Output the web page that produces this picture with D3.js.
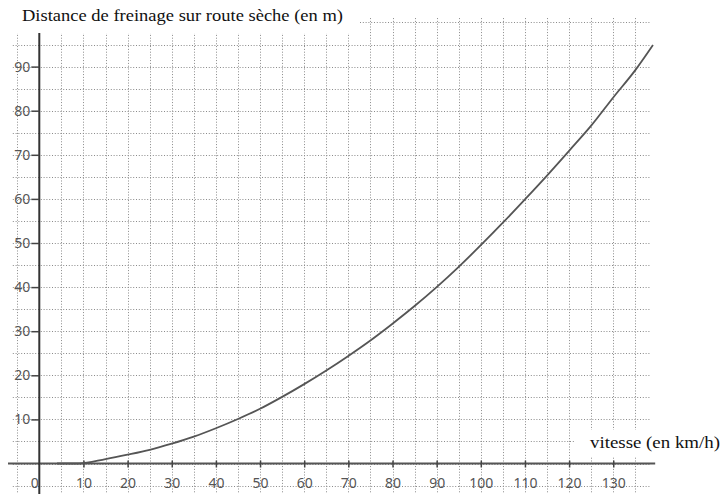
<!DOCTYPE html>
<html>
<head>
<meta charset="utf-8">
<script src="https://cdn.jsdelivr.net/npm/d3@7/dist/d3.min.js"></script>
<style>
  html, body { margin: 0; padding: 0; background: #fff; }
  svg { display: block; }
</style>
</head>
<body>
<svg id="chart" width="721" height="494"></svg>
<script>
// ---- data ----
const speeds    = [4, 9, 15, 20, 25, 30, 35, 40, 45, 50, 55, 60, 65, 70, 75, 80, 85, 90, 95, 100, 105, 110, 115, 120, 125, 130, 135, 139];
const distances = [0, 0, 1.0, 2, 3.1, 4.5, 6.1, 8, 10.1, 12.4, 15.1, 18, 21.1, 24.4, 27.9, 31.7, 35.7, 40, 44.6, 49.5, 54.6, 59.9, 65.3, 70.9, 76.6, 83, 89.2, 94.9];
const xTickValues = [0, 10, 20, 30, 40, 50, 60, 70, 80, 90, 100, 110, 120, 130];
const yTickValues = [10, 20, 30, 40, 50, 60, 70, 80, 90];
const xGridValues = d3.range(-5, 136, 5);
const yGridValues = d3.range(-5, 101, 5);
const titleText = "Distance de freinage sur route sèche (en m)";
const xLabelText = "vitesse (en km/h)";

const SERIF = '"Liberation Serif", "Times New Roman", serif';
const SANS = '"Noto Sans", "Open Sans", sans-serif';

const svg = d3.select("#chart");

const x = d3.scaleLinear().domain([0, 130]).range([39.3, 39.3 + 13 * 44.15]);
const y = d3.scaleLinear().domain([0, 90]).range([463.5, 463.5 - 9 * 44.1]);

// ---- dotted grid ----
const grid = svg.append("g").attr("stroke", "#8a8a8a").attr("stroke-width", 1)
  .attr("stroke-dasharray", "1,1.8");
grid.selectAll("line.v").data(xGridValues).join("line").attr("class", "v")
  .attr("x1", d => Math.round(x(d)) + 0.5).attr("x2", d => Math.round(x(d)) + 0.5)
  .attr("y1", y(101)).attr("y2", 494);
grid.selectAll("line.h").data(yGridValues).join("line").attr("class", "h")
  .attr("y1", d => Math.round(y(d)) + 0.5).attr("y2", d => Math.round(y(d)) + 0.5)
  .attr("x1", x(-6)).attr("x2", x(138.5));

// white boxes behind title and x label
svg.append("rect").attr("x", 0).attr("y", 0).attr("width", 360).attr("height", 33).attr("fill", "#fff");
svg.append("rect").attr("x", 575).attr("y", 430).attr("width", 146).attr("height", 27).attr("fill", "#fff");

// ---- axis lines ----
svg.append("line").attr("x1", 8).attr("x2", x(139.5)).attr("y1", y(0)).attr("y2", y(0))
  .attr("stroke", "#555").attr("stroke-width", 2);
svg.append("line").attr("x1", x(0)).attr("x2", x(0)).attr("y1", 33).attr("y2", 494)
  .attr("stroke", "#333").attr("stroke-width", 2);

// ---- x axis ticks + labels ----
const xAxis = d3.axisBottom(x).tickValues(xTickValues).tickSize(4).tickSizeOuter(0).tickFormat(d3.format("d"));
const gx = svg.append("g").attr("transform", `translate(0,${y(0)})`).call(xAxis);
gx.select(".domain").remove();
gx.selectAll(".tick line").attr("y1", -3).attr("y2", 4).attr("stroke", "#444").attr("stroke-width", 1.5)
  .filter(d => d === 0).remove();
gx.selectAll(".tick text").attr("y", 24).attr("dy", 0)
  .style("font-family", SANS).style("font-size", "14px").attr("fill", "#555");
gx.selectAll(".tick").filter(d => d === 0).select("text").attr("text-anchor", "end").attr("x", -1);

// ---- y axis ticks + labels ----
const yAxis = d3.axisLeft(y).tickValues(yTickValues).tickSize(8).tickPadding(1).tickFormat(d3.format("d"));
const gy = svg.append("g").attr("transform", `translate(${x(0)},0)`).call(yAxis);
gy.select(".domain").remove();
gy.selectAll(".tick line").attr("stroke", "#444").attr("stroke-width", 1.5);
gy.selectAll(".tick text").style("font-family", SANS).style("font-size", "14px").attr("fill", "#555");

// ---- curve ----
const line = d3.line().x((d, i) => x(speeds[i])).y(d => y(d)).curve(d3.curveMonotoneX);
svg.append("path").datum(distances).attr("d", line)
  .attr("fill", "none").attr("stroke", "#555").attr("stroke-width", 1.8);

// ---- titles ----
svg.append("text").attr("x", 22).attr("y", 21).text(titleText)
  .style("font-family", SERIF).style("font-size", "17px").attr("fill", "#111")
  .attr("textLength", 321).attr("lengthAdjust", "spacingAndGlyphs");
svg.append("text").attr("x", 590).attr("y", 448).text(xLabelText)
  .style("font-family", SERIF).style("font-size", "16px").attr("fill", "#111")
  .attr("textLength", 130).attr("lengthAdjust", "spacingAndGlyphs");
</script>
</body>
</html>
